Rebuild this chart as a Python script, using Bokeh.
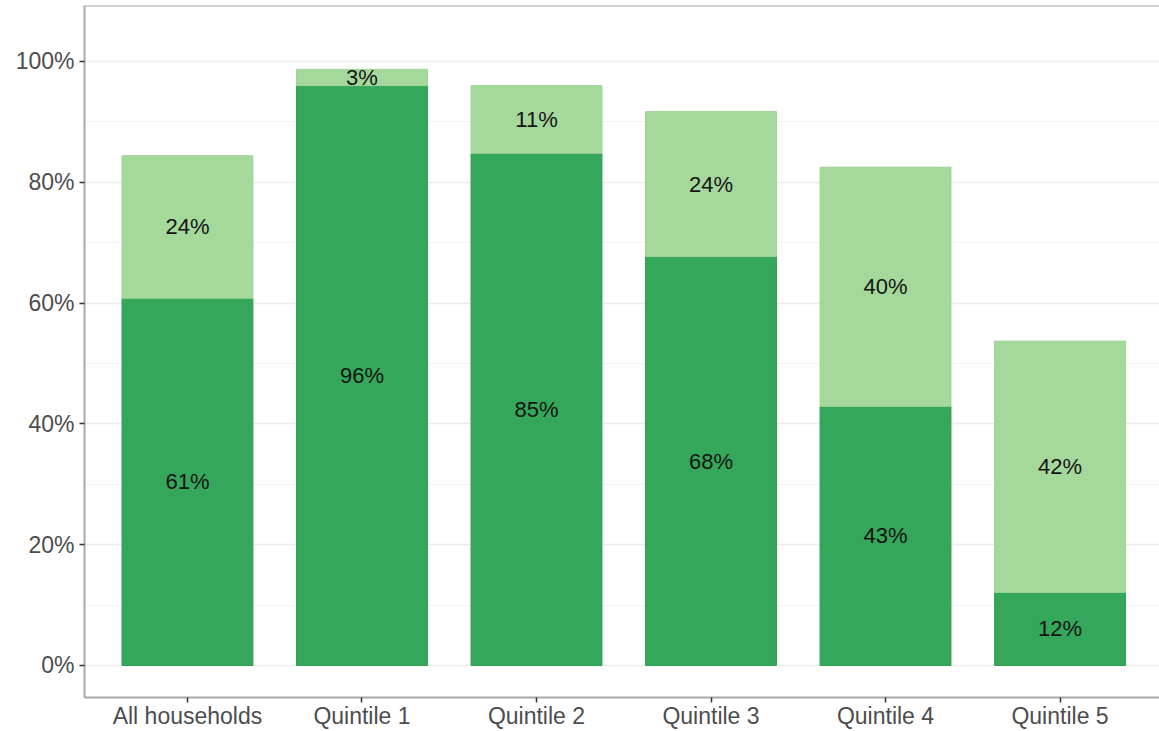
from bokeh.plotting import figure
from bokeh.models import Range1d, FixedTicker, SingleIntervalTicker, PrintfTickFormatter, Span, ColumnDataSource
from bokeh.core.properties import value
from bokeh.embed import file_html
from bokeh.resources import INLINE

categories = ["All households", "Quintile 1", "Quintile 2", "Quintile 3", "Quintile 4", "Quintile 5"]
dark_values = [60.8, 96.0, 84.8, 67.7, 42.9, 12.1]
light_values = [23.6, 2.7, 11.2, 24.0, 39.6, 41.6]
y_ticks = [0, 20, 40, 60, 80, 100]

dark_color = "#35a75a"
light_color = "#a5d99c"
font = "Liberation Sans"

xs = list(range(1, len(categories) + 1))
tops = [d + l for d, l in zip(dark_values, light_values)]

dark_src = ColumnDataSource(dict(
    x=xs, bottom=[0] * len(xs), top=dark_values,
    ymid=[d / 2 for d in dark_values],
    label=[f"{round(d)}%" for d in dark_values],
))
light_src = ColumnDataSource(dict(
    x=xs, bottom=dark_values, top=tops,
    ymid=[d + l / 2 for d, l in zip(dark_values, light_values)],
    label=[f"{round(l)}%" for l in light_values],
))

Y_TOP = 109.27
p = figure(width=1159, height=731, output_backend="svg", toolbar_location=None,
           x_range=Range1d(0.41, 6.57), y_range=Range1d(-5.30, Y_TOP),
           min_border_left=84, min_border_right=0, min_border_top=5, min_border_bottom=30)
p.outline_line_color = None
p.background_fill_color = "white"
p.border_fill_color = "white"

# grids
p.xgrid.grid_line_color = None
p.yaxis.ticker = SingleIntervalTicker(interval=20, num_minor_ticks=2)
p.ygrid.grid_line_color = "#EBEBEB"
p.ygrid.grid_line_width = 1.6
p.ygrid.minor_grid_line_color = "#F3F3F3"
p.ygrid.minor_grid_line_width = 1.2

# bars
p.vbar(x="x", bottom="bottom", top="top", width=0.75, source=dark_src,
       fill_color=dark_color, line_color="#2f9f52", line_width=1)
p.vbar(x="x", bottom="bottom", top="top", width=0.75, source=light_src,
       fill_color=light_color, line_color="#9dd494", line_width=1)

# labels
for src in (dark_src, light_src):
    p.text(x="x", y="ymid", text="label", source=src, text_align="center",
           text_baseline="middle", text_font=value(font), text_font_size="22px",
           text_color="#141414")

# axes
p.xaxis.ticker = FixedTicker(ticks=xs)
p.xaxis.major_label_overrides = {x: c for x, c in zip(xs, categories)}
p.yaxis.formatter = PrintfTickFormatter(format="%d%%")

for ax in (p.xaxis[0], p.yaxis[0]):
    ax.axis_line_color = "#A8A8A8"
    ax.axis_line_width = 2
    ax.major_tick_line_color = "#333333"
    ax.major_tick_line_width = 1.5
    ax.major_tick_out = 5
    ax.major_tick_in = 0
    ax.minor_tick_line_color = None
    ax.major_label_text_font = font
    ax.major_label_text_font_size = "23px"
    ax.major_label_text_color = "#4D4D4D"
p.xaxis.major_label_standoff = 0
p.yaxis.major_label_standoff = 5

# top panel border
p.add_layout(Span(location=Y_TOP, dimension="width", line_color="#A8A8A8", line_width=2))

open("out.html", "w").write(file_html(p, INLINE))
